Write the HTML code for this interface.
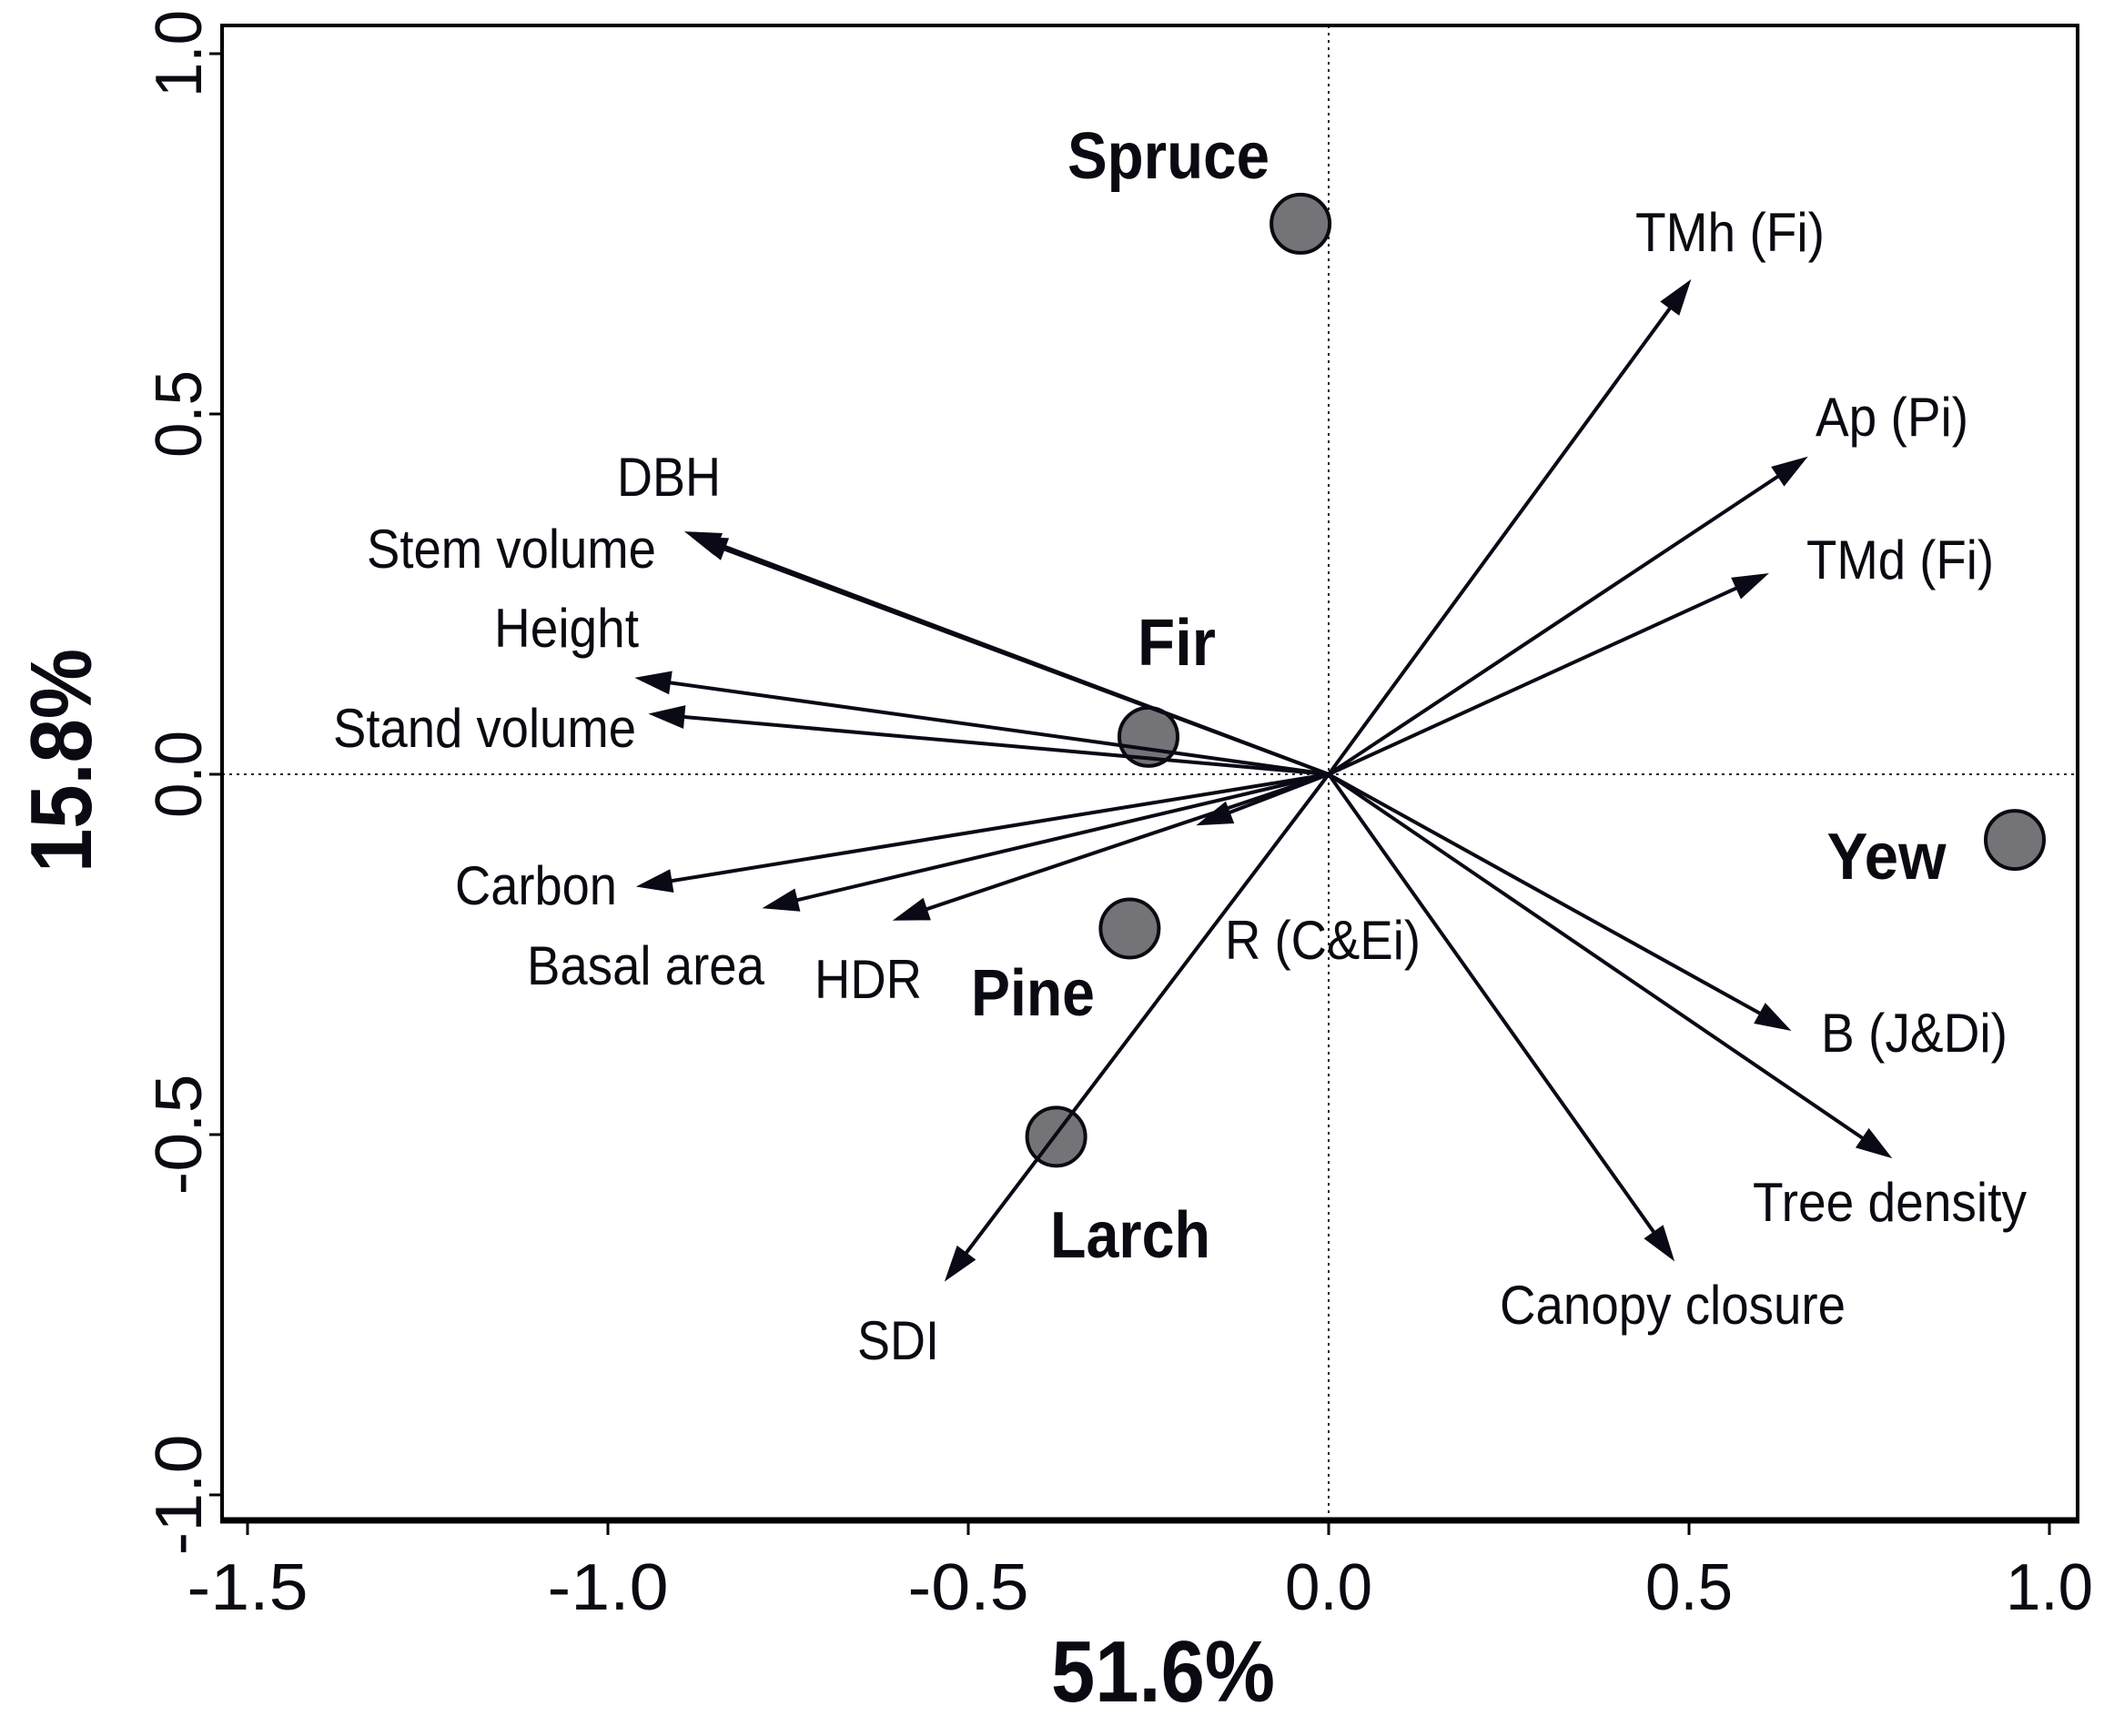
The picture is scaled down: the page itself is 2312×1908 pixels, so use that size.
<!DOCTYPE html>
<html><head><meta charset="utf-8"><style>
html,body{margin:0;padding:0;background:#fff}
svg{display:block}
text{font-family:"Liberation Sans",Arial,sans-serif;fill:#0a0a12}
</style></head><body>
<svg id="chart" width="2312" height="1908" viewBox="0 0 2312 1908" xmlns="http://www.w3.org/2000/svg">
<g id="frame"></g>
<g id="points"></g>
<g id="arrows"></g>
<g id="labels"></g>
</svg>
<script>
const xTicks = [-1.5, -1.0, -0.5, 0.0, 0.5, 1.0];
const xTickLabels = ["-1.5", "-1.0", "-0.5", "0.0", "0.5", "1.0"];
const yTicks = [1.0, 0.5, 0.0, -0.5, -1.0];
const yTickLabels = ["1.0", "0.5", "0.0", "-0.5", "-1.0"];
const speciesNames = ["Spruce", "Fir", "Yew", "Pine", "Larch"];
const speciesX = [-0.039, -0.25, 0.952, -0.276, -0.378];
const speciesY = [0.764, 0.052, -0.091, -0.214, -0.503];
const varNames = ["DBH", "Stem volume", "Height", "Stand volume", "Carbon", "Basal area", "HDR", "R (C&Ei)", "SDI", "Canopy closure", "Tree density", "B (J&Di)", "TMd (Fi)", "Ap (Pi)", "TMh (Fi)"];
const varX = [-0.894, -0.885, -0.963, -0.944, -0.961, -0.786, -0.605, -0.184, -0.533, 0.480, 0.782, 0.642, 0.611, 0.665, 0.503];
const varY = [0.337, 0.330, 0.134, 0.084, -0.156, -0.186, -0.203, -0.071, -0.704, -0.676, -0.533, -0.356, 0.279, 0.441, 0.687];
const xTitle = "51.6%";
const yTitle = "15.8%";

const NS = "http://www.w3.org/2000/svg";
const L = 244, T = 28, R = 2283, B = 1671;
const X0 = 1460, Y0 = 851, U = 792;
const sx = v => X0 + U * v;
const sy = v => Y0 - U * v;
function mk(tag, attrs, parent) {
  const e = document.createElementNS(NS, tag);
  for (const k in attrs) e.setAttribute(k, attrs[k]);
  parent.appendChild(e);
  return e;
}
const frame = document.getElementById('frame');
const pts = document.getElementById('points');
const arr = document.getElementById('arrows');
const lab = document.getElementById('labels');

let e = mk('line', {x1: sx(0), y1: T, x2: sx(0), y2: B, stroke: '#222', 'stroke-width': 2, 'stroke-dasharray': '3,5'}, frame);


e = mk('line', {x1: L, y1: sy(0), x2: R, y2: sy(0), stroke: '#222', 'stroke-width': 2, 'stroke-dasharray': '3,5'}, frame);


e = mk('rect', {x: L, y: T, width: R - L, height: B - T, fill: 'none', stroke: '#000', 'stroke-width': 4}, frame);


e = mk('line', {x1: L - 2, y1: B, x2: R + 2, y2: B, stroke: '#000', 'stroke-width': 7}, frame);



xTicks.forEach((v, i) => {
  let t = mk('line', {x1: sx(v), y1: B, x2: sx(v), y2: B + 16, stroke: '#000', 'stroke-width': 3}, frame);
  
  
  const w = xTickLabels[i].length > 3 ? 133 : 96;
  let tx = mk('text', {x: sx(v), y: 1769, 'font-size': 72, 'text-anchor': 'middle', textLength: w, lengthAdjust: 'spacingAndGlyphs'}, frame);
  tx.textContent = xTickLabels[i];
  
  
});
yTicks.forEach((v, i) => {
  let t = mk('line', {x1: L - 14, y1: sy(v), x2: L, y2: sy(v), stroke: '#000', 'stroke-width': 3}, frame);
  
  
  const w = yTickLabels[i].length > 3 ? 133 : 96;
  let tx = mk('text', {x: 0, y: 0, 'font-size': 72, 'text-anchor': 'middle', transform: `translate(196,${sy(v)}) rotate(-90)`, textLength: w, lengthAdjust: 'spacingAndGlyphs'}, frame);
  tx.setAttribute('dy', '25');
  tx.textContent = yTickLabels[i];
  
  
});
e = mk('text', {x: 1278, y: 1870, 'font-size': 96, 'font-weight': 'bold', 'text-anchor': 'middle', textLength: 246, lengthAdjust: 'spacingAndGlyphs'}, frame);
e.textContent = xTitle;


e = mk('text', {x: 0, y: 0, 'font-size': 96, 'font-weight': 'bold', 'text-anchor': 'middle', transform: 'translate(100,836) rotate(-90)', textLength: 246, lengthAdjust: 'spacingAndGlyphs'}, frame);
e.textContent = yTitle;



const spLab = [[1284, 196, 222], [1293, 731, 86], [2073, 966, 131], [1135, 1116, 136], [1242, 1382, 176]];
speciesNames.forEach((n, i) => {
  let c = mk('circle', {cx: sx(speciesX[i]), cy: sy(speciesY[i]), r: 32, fill: '#747478', stroke: '#0a0a12', 'stroke-width': 4}, pts);
  
  
  let t = mk('text', {x: spLab[i][0], y: spLab[i][1], 'font-size': 72, 'font-weight': 'bold', 'text-anchor': 'middle', textLength: spLab[i][2], lengthAdjust: 'spacingAndGlyphs'}, lab);
  t.textContent = n;
  
  
});

const HL = 40, HW = 13;
varNames.forEach((n, i) => {
  const x2 = sx(varX[i]), y2 = sy(varY[i]);
  const dx = x2 - X0, dy = y2 - Y0, len = Math.hypot(dx, dy);
  const ux = dx / len, uy = dy / len;
  const bx = x2 - ux * HL, by = y2 - uy * HL;
  let g = mk('g', {}, arr);
  
  
  mk('line', {x1: X0, y1: Y0, x2: bx + ux * 4, y2: by + uy * 4, stroke: '#0a0a16', 'stroke-width': 4}, g);
  mk('polygon', {points: `${x2},${y2} ${bx - uy * HW},${by + ux * HW} ${bx + uy * HW},${by - ux * HW}`, fill: '#0a0a16'}, g);
});

const vl = [[678, 545, 114], [403, 624, 318], [543, 711, 159], [366, 821, 333], [500, 994, 178], [579, 1082, 261], [895, 1097, 118], [1346, 1054, 215], [942, 1494, 90], [1648, 1455, 380], [1926, 1342, 301], [2001, 1156, 205], [1985, 636, 206], [1995, 479, 168], [1797, 276, 208]];
varNames.forEach((n, i) => {
  let t = mk('text', {x: vl[i][0], y: vl[i][1], 'font-size': 60, textLength: vl[i][2], lengthAdjust: 'spacingAndGlyphs'}, lab);
  t.textContent = n;
  
  
});
</script>
</body></html>
